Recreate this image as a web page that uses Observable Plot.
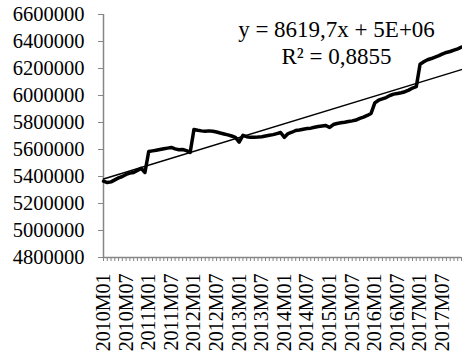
<!DOCTYPE html>
<html>
<head>
<meta charset="utf-8">
<script src="https://cdn.jsdelivr.net/npm/d3@7"></script>
<script src="https://cdn.jsdelivr.net/npm/@observablehq/plot@0.6"></script>
<style>
  html, body { margin: 0; padding: 0; background: #ffffff; }
  #chart { width: 462px; height: 358px; }
</style>
</head>
<body>
<div id="chart"></div>
<script>
// ---- data (monthly values) ----
const years = [2010, 2011, 2012, 2013, 2014, 2015, 2016, 2017];
const monthCodes = ["M01","M02","M03","M04","M05","M06","M07","M08","M09","M10","M11","M12"];
const v2010 = [5365000, 5355000, 5360000, 5375000, 5390000, 5400000, 5415000, 5425000, 5430000, 5445000, 5460000, 5430000];
const v2011 = [5585000, 5590000, 5595000, 5600000, 5605000, 5610000, 5615000, 5605000, 5598000, 5600000, 5592000, 5578000];
const v2012 = [5748000, 5742000, 5738000, 5735000, 5738000, 5735000, 5730000, 5722000, 5715000, 5708000, 5700000, 5690000];
const v2013 = [5655000, 5705000, 5695000, 5690000, 5690000, 5692000, 5695000, 5700000, 5705000, 5710000, 5718000, 5726000];
const v2014 = [5690000, 5718000, 5728000, 5741000, 5745000, 5750000, 5755000, 5758000, 5765000, 5770000, 5774000, 5778000];
const v2015 = [5763000, 5785000, 5793000, 5798000, 5802000, 5807000, 5812000, 5818000, 5830000, 5840000, 5852000, 5867000];
const v2016 = [5945000, 5965000, 5975000, 5985000, 6000000, 6010000, 6015000, 6020000, 6028000, 6040000, 6055000, 6065000];
const v2017 = [6232000, 6250000, 6265000, 6274000, 6285000, 6295000, 6308000, 6319000, 6326000, 6336000, 6346000, 6358000];
const yTicks = [4800000, 5000000, 5200000, 5400000, 5600000, 5800000, 6000000, 6200000, 6400000, 6600000];
const equationText = "y = 8619,7x + 5E+06";
const r2Text = "R\u00b2 = 0,8855";

// ---- build table ----
const series = [v2010, v2011, v2012, v2013, v2014, v2015, v2016, v2017];
const months = [];
years.forEach(y => monthCodes.forEach(m => months.push(`${y}${m}`)));
const values = series.flat();
const data = values.map((v, i) => ({i, label: months[i], v}));
const allIdx = data.map(d => d.i);
const labelIdx = allIdx.filter(i => i % 6 === 0);

const serif = "'Liberation Serif','Times New Roman',serif";
const axisGrey = "#868686";

const chart = Plot.plot({
  width: 462,
  height: 358,
  marginLeft: 103,
  marginRight: 1,
  marginTop: 14,
  marginBottom: 101,
  style: {fontFamily: serif, fontSize: "20px", color: "black", background: "white", overflow: "visible"},
  x: {type: "linear", domain: [0, allIdx.length - 1]},
  y: {domain: [yTicks[0], yTicks[yTicks.length - 1]]},
  marks: [
    Plot.ruleY([yTicks[0]], {stroke: axisGrey, strokeWidth: 1.5}),
    Plot.ruleX([0], {stroke: axisGrey, strokeWidth: 1.5}),
    Plot.axisY({ticks: yTicks, tickSize: 5, tickPadding: 14, tickFormat: d => String(d), stroke: axisGrey, fill: "black", label: null, fontSize: 20.5}),
    Plot.axisX({ticks: allIdx, tickSize: 4, tickFormat: () => "", stroke: axisGrey, label: null}),
    Plot.axisX({ticks: labelIdx, tickSize: 0, tickPadding: 16, tickRotate: -90, tickFormat: i => months[i], fill: "black", label: null, fontSize: 20}),
    Plot.line(data, {x: "i", y: "v", stroke: "black", strokeWidth: 3.5}),
    Plot.linearRegressionY(data, {x: "i", y: "v", stroke: "black", strokeWidth: 1.5, ci: 0}),
    Plot.text([equationText], {frameAnchor: "top-left", dx: 233, dy: 22, lineAnchor: "bottom", textAnchor: "middle", fontSize: 23, fill: "black"}),
    Plot.text([r2Text], {frameAnchor: "top-left", dx: 233, dy: 49, lineAnchor: "bottom", textAnchor: "middle", fontSize: 23, fill: "black"})
  ]
});
document.getElementById("chart").appendChild(chart);
</script>
</body>
</html>
